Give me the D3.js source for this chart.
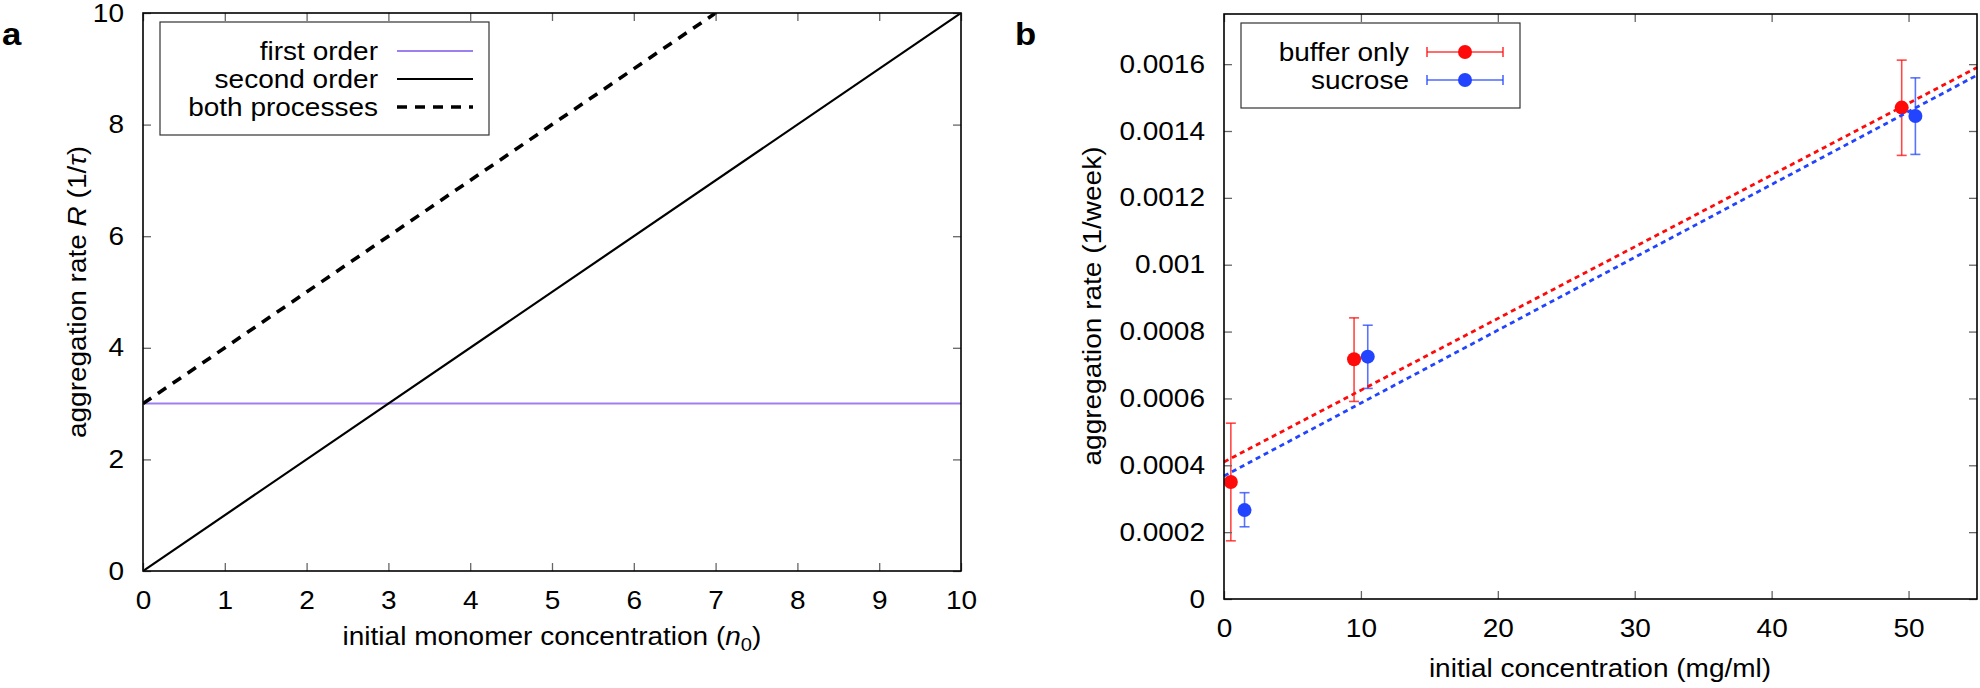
<!DOCTYPE html>
<html>
<head>
<meta charset="utf-8">
<script src="https://cdn.jsdelivr.net/npm/d3@7"></script>
<style>
  body { margin: 0; background: #fff; }
  svg text { font-family: "Liberation Sans", Arial, Helvetica, sans-serif; font-size: 25px; fill: #000;
    transform-box: fill-box; transform: scaleX(1.12); }
  svg text.mid { transform-origin: center; }
  svg text.end { transform-origin: right; }
  svg text.start { transform-origin: left; }
</style>
</head>
<body>
<script>
// panel a: model curves
const aX = [0, 10];
const firstOrder = [3, 3];
const secondOrder = [0, 10];
const bothProcesses = [3, 13];
const aXTicks = [0, 1, 2, 3, 4, 5, 6, 7, 8, 9, 10];
const aYTicks = [0, 2, 4, 6, 8, 10];

// panel b: measured rates with error bars
const bufferX = [0.5, 9.5, 49.5];
const bufferY = [0.00035, 0.000717, 0.00147];
const bufferLo = [0.000174, 0.000591, 0.001327];
const bufferHi = [0.000526, 0.000841, 0.001612];
const sucroseX = [1.5, 10.5, 50.5];
const sucroseY = [0.000266, 0.000725, 0.001445];
const sucroseLo = [0.000216, 0.00063, 0.00133];
const sucroseHi = [0.000318, 0.000819, 0.001559];
// linear fits, read at the two ends of the x range
const fitX = [0, 55];
const bufferFit = [0.00041, 0.00159];
const sucroseFit = [0.000368, 0.001567];
const bXTicks = [0, 10, 20, 30, 40, 50];
const bYTicks = [0, 0.0002, 0.0004, 0.0006, 0.0008, 0.001, 0.0012, 0.0014, 0.0016];
const bYLabels = ["0", "0.0002", "0.0004", "0.0006", "0.0008", "0.001", "0.0012", "0.0014", "0.0016"];

const purple = "#9d80f0", red = "#ff0a0a", blue = "#2244ff";

const svg = d3.select("body").append("svg")
  .attr("width", 1980)
  .attr("height", 688);

const xa = d3.scaleLinear().domain([0, 10]).range([143, 961]);
const ya = d3.scaleLinear().domain([0, 10]).range([571, 13]);
const xb = d3.scaleLinear().domain([0, 55]).range([1224, 1977]);
const yb = d3.scaleLinear().domain([0, 0.00175]).range([599, 14]);

function frame(x, y, xt, yt, yfmt) {
  const g = svg.append("g");
  const [x0, x1] = x.range(), [y0, y1] = y.range();
  g.append("g").attr("transform", `translate(0,${y0})`)
    .call(d3.axisBottom(x).tickValues(xt).tickFormat(d3.format("d")).tickSizeInner(-8).tickSizeOuter(0).tickPadding(20));
  g.append("g").attr("transform", `translate(0,${y1})`)
    .call(d3.axisTop(x).tickValues(xt).tickFormat("").tickSizeInner(-8).tickSizeOuter(0));
  g.append("g").attr("transform", `translate(${x0},0)`)
    .call(d3.axisLeft(y).tickValues(yt).tickFormat(yfmt).tickSizeInner(-8).tickSizeOuter(0).tickPadding(19));
  g.append("g").attr("transform", `translate(${x1},0)`)
    .call(d3.axisRight(y).tickValues(yt).tickFormat("").tickSizeInner(-8).tickSizeOuter(0));
  g.selectAll(".domain").remove();
  g.selectAll(".tick line").attr("stroke", "#666").attr("stroke-width", 1.3);
  g.selectAll(".tick text").attr("class", function() {
    return d3.select(this.parentNode.parentNode).attr("text-anchor") === "end" ? "end" : "mid";
  });
  g.append("rect")
    .attr("x", x0).attr("y", y1)
    .attr("width", x1 - x0).attr("height", y0 - y1)
    .attr("fill", "none").attr("stroke", "#000").attr("stroke-width", 1.6);
  return g;
}

// ---------- panel a ----------
svg.append("defs").append("clipPath").attr("id", "clipA")
  .append("rect").attr("x", 143).attr("y", 13).attr("width", 818).attr("height", 558);

const pa = svg.append("g").attr("clip-path", "url(#clipA)");
const lineA = d3.line().x((d, i) => xa(aX[i])).y(d => ya(d));

pa.append("path").attr("d", lineA(firstOrder))
  .attr("fill", "none").attr("stroke", purple).attr("stroke-width", 2);
pa.append("path").attr("d", lineA(secondOrder))
  .attr("fill", "none").attr("stroke", "#000").attr("stroke-width", 2.2);
pa.append("path").attr("d", lineA(bothProcesses))
  .attr("fill", "none").attr("stroke", "#000").attr("stroke-width", 3.6)
  .attr("stroke-dasharray", "10,8");

frame(xa, ya, aXTicks, aYTicks, d3.format("d"));

// legend a
svg.append("rect").attr("x", 160).attr("y", 22).attr("width", 329).attr("height", 113)
  .attr("fill", "#fff").attr("stroke", "#333").attr("stroke-width", 1.2);
const legA = [
  { label: "first order", stroke: purple, w: 2, dash: null },
  { label: "second order", stroke: "#000", w: 2.2, dash: null },
  { label: "both processes", stroke: "#000", w: 3.6, dash: "10,8" }
];
legA.forEach((d, i) => {
  const yb0 = 60 + i * 28;
  svg.append("text").attr("class", "end").attr("x", 378).attr("y", yb0)
    .attr("text-anchor", "end").text(d.label);
  svg.append("line").attr("x1", 397).attr("x2", 473).attr("y1", yb0 - 9).attr("y2", yb0 - 9)
    .attr("stroke", d.stroke).attr("stroke-width", d.w)
    .attr("stroke-dasharray", d.dash);
});

// axis titles a
svg.append("text").attr("class", "mid").attr("x", 552).attr("y", 645).attr("text-anchor", "middle")
  .call(t => {
    t.append("tspan").text("initial monomer concentration (");
    t.append("tspan").attr("font-style", "italic").text("n");
    t.append("tspan").attr("font-size", "18px").attr("dy", 6).text("0");
    t.append("tspan").attr("dy", -6).text(")");
  });
svg.append("g").attr("transform", "translate(86,292) rotate(-90)")
  .append("text").attr("class", "mid").attr("text-anchor", "middle")
  .call(t => {
    t.append("tspan").text("aggregation rate ");
    t.append("tspan").attr("font-style", "italic").text("R");
    t.append("tspan").text(" (1/");
    t.append("tspan").attr("font-style", "italic").text("τ");
    t.append("tspan").text(")");
  });

svg.append("text").attr("class", "start").attr("x", 2).attr("y", 45)
  .attr("font-weight", "bold").style("font-size", "31px").text("a");

// ---------- panel b ----------
const lineB = d3.line().x((d, i) => xb(fitX[i])).y(d => yb(d));

function errSeries(xs, ys, lo, hi, color) {
  const g = svg.append("g");
  g.selectAll("line.bar").data(xs).enter().append("line")
    .attr("x1", d => xb(d)).attr("x2", d => xb(d))
    .attr("y1", (d, i) => yb(lo[i])).attr("y2", (d, i) => yb(hi[i]))
    .attr("stroke", color).attr("stroke-width", 1.6).attr("stroke-opacity", 0.75);
  [lo, hi].forEach(arr => {
    g.selectAll(null).data(xs).enter().append("line")
      .attr("x1", d => xb(d) - 5).attr("x2", d => xb(d) + 5)
      .attr("y1", (d, i) => yb(arr[i])).attr("y2", (d, i) => yb(arr[i]))
      .attr("stroke", color).attr("stroke-width", 1.6).attr("stroke-opacity", 0.75);
  });
  g.selectAll("circle").data(xs).enter().append("circle")
    .attr("cx", d => xb(d)).attr("cy", (d, i) => yb(ys[i])).attr("r", 7)
    .attr("fill", color);
}

errSeries(bufferX, bufferY, bufferLo, bufferHi, red);
errSeries(sucroseX, sucroseY, sucroseLo, sucroseHi, blue);

svg.append("path").attr("d", lineB(bufferFit))
  .attr("fill", "none").attr("stroke", red).attr("stroke-width", 2.8).attr("stroke-dasharray", "5,4");
svg.append("path").attr("d", lineB(sucroseFit))
  .attr("fill", "none").attr("stroke", blue).attr("stroke-width", 2.8).attr("stroke-dasharray", "5,4");

frame(xb, yb, bXTicks, bYTicks, (d, i) => bYLabels[i]);

// legend b
svg.append("rect").attr("x", 1241).attr("y", 23).attr("width", 279).attr("height", 85)
  .attr("fill", "#fff").attr("stroke", "#333").attr("stroke-width", 1.2);
[{ label: "buffer only", c: red }, { label: "sucrose", c: blue }].forEach((d, i) => {
  const yb0 = 61 + i * 28, ym = yb0 - 9;
  svg.append("text").attr("class", "end").attr("x", 1409).attr("y", yb0)
    .attr("text-anchor", "end").text(d.label);
  const g = svg.append("g").attr("stroke", d.c).attr("stroke-width", 1.6).attr("stroke-opacity", 0.8);
  g.append("line").attr("x1", 1427).attr("x2", 1503).attr("y1", ym).attr("y2", ym);
  g.append("line").attr("x1", 1427).attr("x2", 1427).attr("y1", ym - 5).attr("y2", ym + 5);
  g.append("line").attr("x1", 1503).attr("x2", 1503).attr("y1", ym - 5).attr("y2", ym + 5);
  svg.append("circle").attr("cx", 1465).attr("cy", ym).attr("r", 7).attr("fill", d.c);
});

svg.append("text").attr("class", "mid").attr("x", 1600).attr("y", 677).attr("text-anchor", "middle")
  .text("initial concentration (mg/ml)");
svg.append("g").attr("transform", "translate(1101,306) rotate(-90)")
  .append("text").attr("class", "mid").attr("text-anchor", "middle")
  .text("aggregation rate (1/week)");

svg.append("text").attr("class", "start").attr("x", 1015).attr("y", 45)
  .attr("font-weight", "bold").style("font-size", "31px").text("b");
</script>
</body>
</html>
